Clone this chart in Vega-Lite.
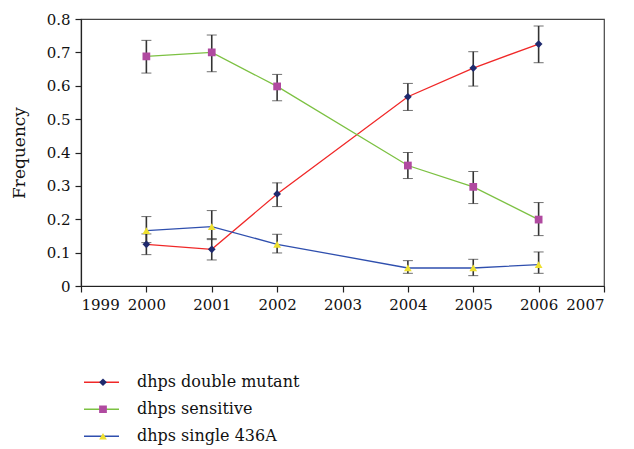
{
  "$schema": "https://vega.github.io/schema/vega-lite/v6.json",
  "width": 523,
  "height": 267,
  "autosize": "none",
  "padding": {"left": 81, "top": 19, "right": 30, "bottom": 163},
  "background": "white",
  "config": {
    "view": {"stroke": "#444", "strokeWidth": 1.2},
    "font": "DejaVu Serif",
    "axis": {"grid": false, "domainColor": "#222", "tickColor": "#222", "labelColor": "#111", "titleColor": "#111", "labelFont": "DejaVu Serif", "titleFont": "DejaVu Serif", "labelFontSize": 15, "titleFontSize": 17, "titleFontWeight": "normal", "tickSize": 6, "domainWidth": 1.2, "tickWidth": 1.2}
  },
  "data": {
    "values": [
      {"year": 2000, "series": "dhps double mutant", "value": 0.125, "lo": 0.094, "hi": 0.156},
      {"year": 2001, "series": "dhps double mutant", "value": 0.110, "lo": 0.078, "hi": 0.142},
      {"year": 2002, "series": "dhps double mutant", "value": 0.276, "lo": 0.238, "hi": 0.309},
      {"year": 2004, "series": "dhps double mutant", "value": 0.567, "lo": 0.526, "hi": 0.607},
      {"year": 2005, "series": "dhps double mutant", "value": 0.653, "lo": 0.599, "hi": 0.702},
      {"year": 2006, "series": "dhps double mutant", "value": 0.725, "lo": 0.669, "hi": 0.779},
      {"year": 2000, "series": "dhps sensitive", "value": 0.688, "lo": 0.638, "hi": 0.736},
      {"year": 2001, "series": "dhps sensitive", "value": 0.700, "lo": 0.642, "hi": 0.752},
      {"year": 2002, "series": "dhps sensitive", "value": 0.598, "lo": 0.555, "hi": 0.634},
      {"year": 2004, "series": "dhps sensitive", "value": 0.361, "lo": 0.322, "hi": 0.400},
      {"year": 2005, "series": "dhps sensitive", "value": 0.297, "lo": 0.247, "hi": 0.343},
      {"year": 2006, "series": "dhps sensitive", "value": 0.199, "lo": 0.151, "hi": 0.250},
      {"year": 2000, "series": "dhps single 436A", "value": 0.166, "lo": 0.130, "hi": 0.208},
      {"year": 2001, "series": "dhps single 436A", "value": 0.178, "lo": 0.139, "hi": 0.226},
      {"year": 2002, "series": "dhps single 436A", "value": 0.125, "lo": 0.099, "hi": 0.155},
      {"year": 2004, "series": "dhps single 436A", "value": 0.054, "lo": 0.038, "hi": 0.076},
      {"year": 2005, "series": "dhps single 436A", "value": 0.054, "lo": 0.031, "hi": 0.080},
      {"year": 2006, "series": "dhps single 436A", "value": 0.064, "lo": 0.038, "hi": 0.102}
    ]
  },
  "encoding": {
    "x": {"field": "year", "type": "quantitative", "scale": {"domain": [1999, 2007], "nice": false}, "axis": {"title": null, "format": "d", "values": [1999, 2000, 2001, 2002, 2003, 2004, 2005, 2006, 2007], "labelPadding": 5}}
  },
  "layer": [
    {
      "mark": {"type": "errorbar", "ticks": {"size": 10, "color": "#333", "strokeWidth": 1.6}, "rule": {"color": "#333", "strokeWidth": 1.6}},
      "encoding": {
        "y": {"field": "lo", "type": "quantitative", "scale": {"domain": [0, 0.8], "nice": false}, "axis": {"title": "Frequency", "values": [0, 0.1, 0.2, 0.3, 0.4, 0.5, 0.6, 0.7, 0.8], "format": ".1~f", "labelPadding": 5, "titlePadding": 18}},
        "y2": {"field": "hi"}
      }
    },
    {
      "mark": {"type": "line", "strokeWidth": 1.3},
      "encoding": {
        "y": {"field": "value", "type": "quantitative", "axis": {"title": "Frequency", "values": [0, 0.1, 0.2, 0.3, 0.4, 0.5, 0.6, 0.7, 0.8], "format": ".1~f", "labelPadding": 5, "titlePadding": 18}},
        "stroke": {"field": "series", "type": "nominal", "scale": {"domain": ["dhps double mutant", "dhps sensitive", "dhps single 436A"], "range": ["#f02828", "#7cc142", "#2f4fae"]},
          "legend": {"orient": "none", "legendX": 2, "legendY": 350, "title": null, "symbolType": "stroke", "symbolSize": 1225, "symbolStrokeWidth": 1.5, "labelFont": "DejaVu Serif", "labelFontSize": 16, "labelColor": "#111", "labelOffset": 17, "labelLimit": 0, "clipHeight": 26.5, "rowPadding": 0, "padding": 0}}
      }
    },
    {
      "mark": {"type": "point", "filled": true, "size": 60, "opacity": 1, "strokeWidth": 1.2},
      "encoding": {
        "y": {"field": "value", "type": "quantitative", "axis": {"title": "Frequency", "values": [0, 0.1, 0.2, 0.3, 0.4, 0.5, 0.6, 0.7, 0.8], "format": ".1~f", "labelPadding": 5, "titlePadding": 18}},
        "shape": {"field": "series", "type": "nominal", "scale": {"range": ["diamond", "square", "triangle-up"]},
          "legend": {"orient": "none", "legendX": 14, "legendY": 350, "title": null, "labelExpr": "''", "symbolSize": 60, "symbolOpacity": 1, "labelFontSize": 16, "labelFont": "DejaVu Serif", "clipHeight": 26.5, "rowPadding": 0, "padding": 0}},
        "fill": {"field": "series", "type": "nominal", "scale": {"range": ["#1f2a6e", "#b04aa0", "#eee030"]},
          "legend": {"orient": "none", "legendX": 14, "legendY": 350, "title": null, "labelExpr": "''", "symbolSize": 60, "symbolOpacity": 1, "labelFontSize": 16, "labelFont": "DejaVu Serif", "clipHeight": 26.5, "rowPadding": 0, "padding": 0}}
      }
    }
  ]
}
